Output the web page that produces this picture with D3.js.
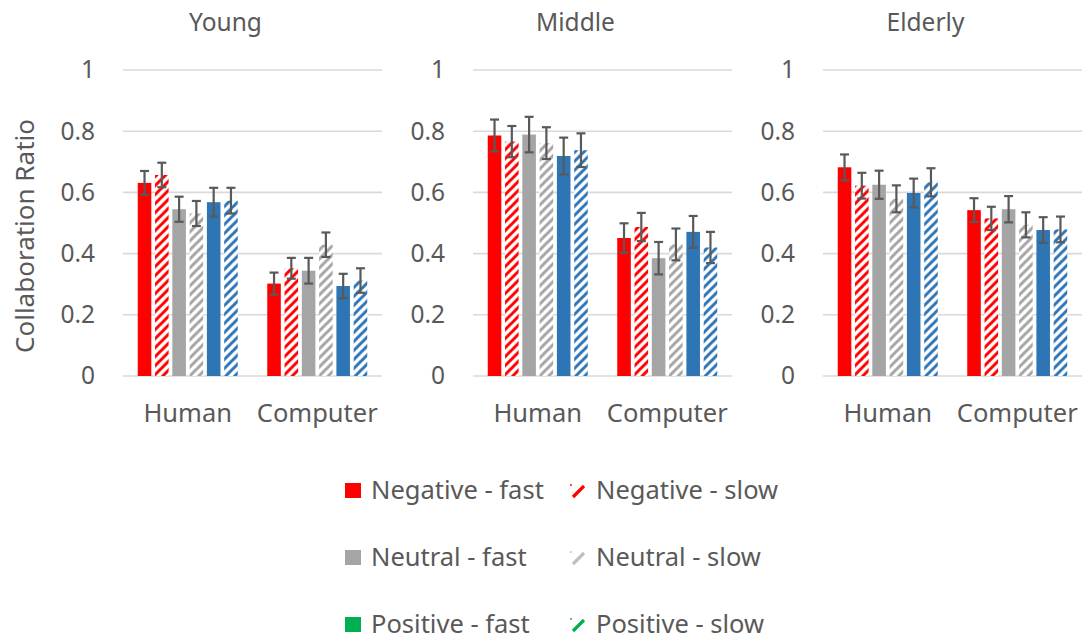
<!DOCTYPE html>
<html>
<head>
<meta charset="utf-8">
<script src="https://cdn.jsdelivr.net/npm/d3@7"></script>
<style>
  html, body { margin: 0; padding: 0; background: #fff; }
  svg { display: block; }
  text { font-family: "Noto Sans", "Open Sans", sans-serif; fill: #595959; }
</style>
</head>
<body>
<svg id="chart" width="1091" height="644"></svg>
<script>
// Age groups (one panel each) and partner categories
const panels = ["Young", "Middle", "Elderly"];
const groups = ["Human", "Computer"];
const seriesNames = ["Negative - fast", "Negative - slow", "Neutral - fast", "Neutral - slow", "Positive - fast", "Positive - slow"];
const yTicks = [0, 0.2, 0.4, 0.6, 0.8, 1];

// Mean collaboration ratio, [Human, Computer] x series
const youngMeans   = [[0.631, 0.657, 0.545, 0.531, 0.568, 0.573], [0.302, 0.352, 0.344, 0.429, 0.294, 0.312]];
const middleMeans  = [[0.786, 0.766, 0.789, 0.761, 0.719, 0.738], [0.451, 0.487, 0.385, 0.430, 0.471, 0.420]];
const elderlyMeans = [[0.682, 0.622, 0.625, 0.579, 0.598, 0.633], [0.542, 0.515, 0.545, 0.494, 0.477, 0.479]];

// Error bar half-widths, same layout
const youngErr   = [[0.039, 0.040, 0.041, 0.041, 0.047, 0.042], [0.036, 0.034, 0.042, 0.040, 0.040, 0.040]];
const middleErr  = [[0.052, 0.051, 0.058, 0.052, 0.060, 0.055], [0.048, 0.046, 0.053, 0.052, 0.052, 0.051]];
const elderlyErr = [[0.042, 0.042, 0.046, 0.044, 0.047, 0.046], [0.039, 0.038, 0.043, 0.041, 0.042, 0.042]];

const means = [youngMeans, middleMeans, elderlyMeans];
const errs = [youngErr, middleErr, elderlyErr];

// Bar colours per series; legend uses its own colours
const barColors = ["#FF0000", "#FF0000", "#A5A5A5", "#A5A5A5", "#2E75B6", "#2E75B6"];
const legendColors = ["#FF0000", "#FF0000", "#A5A5A5", "#BFBFBF", "#00B050", "#00B050"];
const hatched = [false, true, false, true, false, true];

const svg = d3.select("#chart");
const defs = svg.append("defs");

// Diagonal stripe patterns for the "slow" series
const hatchColors = [...new Set(barColors)];
const T = 9;
hatchColors.forEach((c, i) => {
  const p = defs.append("pattern")
    .attr("id", "hatch" + i)
    .attr("patternUnits", "userSpaceOnUse")
    .attr("width", T).attr("height", T);
  p.append("rect").attr("width", T).attr("height", T).attr("fill", "#fff");
  p.append("path")
    .attr("d", `M-2,2 L2,-2 M0,${T} L${T},0 M${T - 2},${T + 2} L${T + 2},${T - 2}`)
    .attr("stroke", c).attr("stroke-width", 3);
});
const fillFor = (s) => hatched[s] ? `url(#hatch${hatchColors.indexOf(barColors[s])})` : barColors[s];

// Shared vertical scale
const y = d3.scaleLinear().domain([0, 1]).range([376, 70]);

const panelLeft = [123, 473, 823];
const panelWidth = 259;
const fontStack = "Noto Sans, Open Sans, sans-serif";

panels.forEach((name, pi) => {
  const g = svg.append("g");
  const x0 = d3.scaleBand().domain(groups).range([panelLeft[pi], panelLeft[pi] + panelWidth]);
  const x1 = d3.scaleBand().domain(d3.range(seriesNames.length)).range([-50, 50]).paddingInner(0.215);

  // Gridlines
  g.selectAll("line.grid").data(yTicks).join("line")
    .attr("x1", panelLeft[pi]).attr("x2", panelLeft[pi] + panelWidth)
    .attr("y1", d => y(d)).attr("y2", d => y(d))
    .attr("stroke", "#D9D9D9").attr("stroke-width", 1.6);

  // Y axis tick labels
  const yAxis = d3.axisLeft(y).tickValues(yTicks).tickFormat(d => d3.format("~g")(d)).tickSize(0).tickPadding(0);
  const ya = g.append("g").attr("transform", `translate(${panelLeft[pi] - 28},0)`).call(yAxis);
  ya.select(".domain").remove();
  ya.selectAll("text").attr("font-size", 24.5).attr("fill", "#595959").attr("font-family", fontStack);

  // X axis category labels
  const xAxis = d3.axisBottom(x0).tickSize(0).tickPadding(0);
  const xa = g.append("g").attr("transform", `translate(0,${y(0) + 28})`).call(xAxis);
  xa.select(".domain").remove();
  xa.selectAll("text").attr("font-size", 25.5).attr("fill", "#595959").attr("font-family", fontStack);

  // Panel title
  g.append("text")
    .attr("x", panelLeft[pi] + panelWidth / 2 - 27)
    .attr("y", 31)
    .attr("text-anchor", "middle")
    .attr("font-size", 24.5)
    .text(name);

  // Bars with error bars
  groups.forEach((grp, gi) => {
    const cx = x0(grp) + x0.bandwidth() / 2;
    const rows = means[pi][gi].map((v, s) => ({ s, v, e: errs[pi][gi][s] }));
    const gg = g.append("g").attr("transform", `translate(${cx},0)`);
    gg.selectAll("rect").data(rows).join("rect")
      .attr("x", d => x1(d.s))
      .attr("width", x1.bandwidth())
      .attr("y", d => y(d.v))
      .attr("height", d => y(0) - y(d.v))
      .attr("fill", d => fillFor(d.s));
    const eb = gg.selectAll("g.err").data(rows).join("g").attr("class", "err")
      .attr("stroke", "#595959").attr("stroke-width", 2.2);
    eb.append("line")
      .attr("x1", d => x1(d.s) + x1.bandwidth() / 2).attr("x2", d => x1(d.s) + x1.bandwidth() / 2)
      .attr("y1", d => y(d.v + d.e)).attr("y2", d => y(d.v - d.e));
    [1, -1].forEach(sign => {
      eb.append("line")
        .attr("x1", d => x1(d.s) + x1.bandwidth() / 2 - 4.5).attr("x2", d => x1(d.s) + x1.bandwidth() / 2 + 4.5)
        .attr("y1", d => y(d.v + sign * d.e)).attr("y2", d => y(d.v + sign * d.e));
    });
  });
});

// Y axis title
svg.append("text")
  .attr("transform", "translate(34,236) rotate(-90)")
  .attr("text-anchor", "middle")
  .attr("font-size", 26)
  .text("Collaboration Ratio");

// Legend: two columns, three rows
const legendRowY = [490, 557, 624];
const legendColX = [345, 570];
seriesNames.forEach((name, s) => {
  const col = s % 2, row = Math.floor(s / 2);
  const lx = legendColX[col], ly = legendRowY[row];
  const lg = svg.append("g");
  if (!hatched[s]) {
    lg.append("rect").attr("x", lx).attr("y", ly - 7).attr("width", 16).attr("height", 15)
      .attr("fill", legendColors[s]);
  } else {
    lg.append("line").attr("x1", lx + 3).attr("y1", ly + 7).attr("x2", lx + 14).attr("y2", ly - 4)
      .attr("stroke", legendColors[s]).attr("stroke-width", 3.2);
    lg.append("rect").attr("x", lx).attr("y", ly - 6).attr("width", 2).attr("height", 2)
      .attr("fill", legendColors[s]).attr("opacity", 0.7);
  }
  lg.append("text").attr("x", lx + 26).attr("y", ly).attr("dy", "0.35em")
    .attr("font-size", 25.5).text(name);
});
</script>
</body>
</html>
